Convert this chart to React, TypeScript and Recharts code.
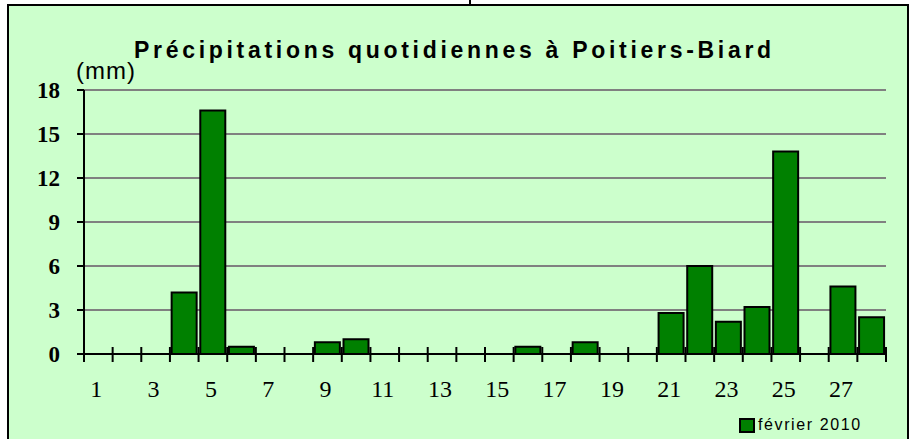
import React from "react";
import { BarChart, Bar, XAxis, YAxis, CartesianGrid, Legend } from "recharts";

const days: number[] = [
  1, 2, 3, 4, 5, 6, 7, 8, 9, 10, 11, 12, 13, 14, 15, 16, 17, 18, 19, 20, 21, 22, 23, 24, 25, 26, 27, 28,
];
const precipMm: number[] = [
  0, 0, 0, 4.2, 16.6, 0.5, 0, 0, 0.8, 1.0, 0, 0, 0, 0, 0, 0.5, 0, 0.8, 0, 0, 2.8, 6.0, 2.2, 3.2, 13.8, 0, 4.6, 2.5,
];
const yTicks: number[] = [0, 3, 6, 9, 12, 15, 18];
const titleText = "Précipitations quotidiennes à Poitiers-Biard";
const unitText = "(mm)";
const seriesName = "février 2010";

const data = days.map((d, i) => ({ day: d, mm: precipMm[i] }));

const W = 913;
const H = 439;
const MARGIN = { top: 90, right: 27, left: 24, bottom: 45 };
const PLOT_W = W - MARGIN.left - 60 - MARGIN.right;

const DayTick = (props: any) => {
  const { x, y, payload, index } = props;
  const half = payload && typeof payload.offset === "number" && payload.offset > 0 ? payload.offset : PLOT_W / days.length / 2;
  const left = x - half;
  const right = x + half;
  const showLabel = payload.value % 2 === 1;
  return (
    <g>
      <line x1={left} x2={left} y1={y - 7} y2={y + 8} stroke="#000" strokeWidth={2} />
      {index === days.length - 1 && (
        <line x1={right} x2={right} y1={y - 7} y2={y + 8} stroke="#000" strokeWidth={2} />
      )}
      {showLabel && (
        <text
          x={x - 2}
          y={y + 43}
          textAnchor="middle"
          fontFamily="'Liberation Serif', 'Times New Roman', serif"
          fontSize={24}
          fill="#000"
        >
          {payload.value}
        </text>
      )}
    </g>
  );
};

const LegendContent = (props: any) => {
  const item = props.payload && props.payload[0];
  return (
    <div style={{ display: "flex", alignItems: "center", whiteSpace: "nowrap" }}>
      <div
        style={{
          width: 12,
          height: 11,
          background: item ? item.color : "#008000",
          border: "2px solid #000",
          marginRight: 3,
        }}
      />
      <span
        style={{
          fontFamily: "'Liberation Sans', Arial, sans-serif",
          fontSize: 16,
          letterSpacing: 1.6,
          color: "#000",
          lineHeight: "16px",
        }}
      >
        {item ? item.value : seriesName}
      </span>
    </div>
  );
};

export default function App() {
  return (
    <div style={{ position: "absolute", left: 0, top: 0, width: W, height: H, background: "#fff", overflow: "hidden" }}>
      <div
        style={{
          position: "absolute",
          left: 7,
          top: 4,
          width: 898,
          height: 460,
          border: "2px solid #000",
          background: "#CCFFCC",
        }}
      />
      <div style={{ position: "absolute", left: 469, top: 0, width: 2, height: 5, background: "#000" }} />
      <div style={{ position: "absolute", left: 0, top: 0 }}>
        <BarChart width={W} height={H} data={data} margin={MARGIN} barCategoryGap="6%">
          <CartesianGrid horizontal={true} vertical={false} stroke="#808080" strokeWidth={2} />
          <XAxis
            dataKey="day"
            type="category"
            interval={0}
            height={40}
            tickLine={false}
            tickSize={0}
            tickMargin={0}
            axisLine={{ stroke: "#000", strokeWidth: 2 }}
            tick={<DayTick />}
          />
          <YAxis
            type="number"
            domain={[0, 18]}
            ticks={yTicks}
            width={60}
            interval={0}
            tickSize={7}
            tickMargin={17}
            axisLine={{ stroke: "#000", strokeWidth: 2 }}
            tickLine={{ stroke: "#000", strokeWidth: 2 }}
            tick={{
              fill: "#000",
              fontSize: 23,
              fontWeight: "bold",
              fontFamily: "'Liberation Serif', 'Times New Roman', serif",
            }}
          />
          <Legend
            layout="horizontal"
            align="center"
            verticalAlign="middle"
            wrapperStyle={{ left: 739, top: 417, width: "auto" }}
            content={<LegendContent />}
          />
          <Bar
            dataKey="mm"
            name={seriesName}
            fill="#008000"
            stroke="#000"
            strokeWidth={2}
            isAnimationActive={false}
          />
        </BarChart>
      </div>
      <svg
        width={W}
        height={H}
        style={{ position: "absolute", left: 0, top: 0, pointerEvents: "none" }}
      >
        <text
          x={134}
          y={58}
          fontFamily="'Liberation Sans', Arial, sans-serif"
          fontWeight="bold"
          fontSize={23}
          letterSpacing={3.7}
          fill="#000"
        >
          {titleText}
        </text>
        <text
          x={76}
          y={79}
          fontFamily="'Liberation Sans', Arial, sans-serif"
          fontSize={24}
          letterSpacing={1}
          fill="#000"
        >
          {unitText}
        </text>
      </svg>
    </div>
  );
}
